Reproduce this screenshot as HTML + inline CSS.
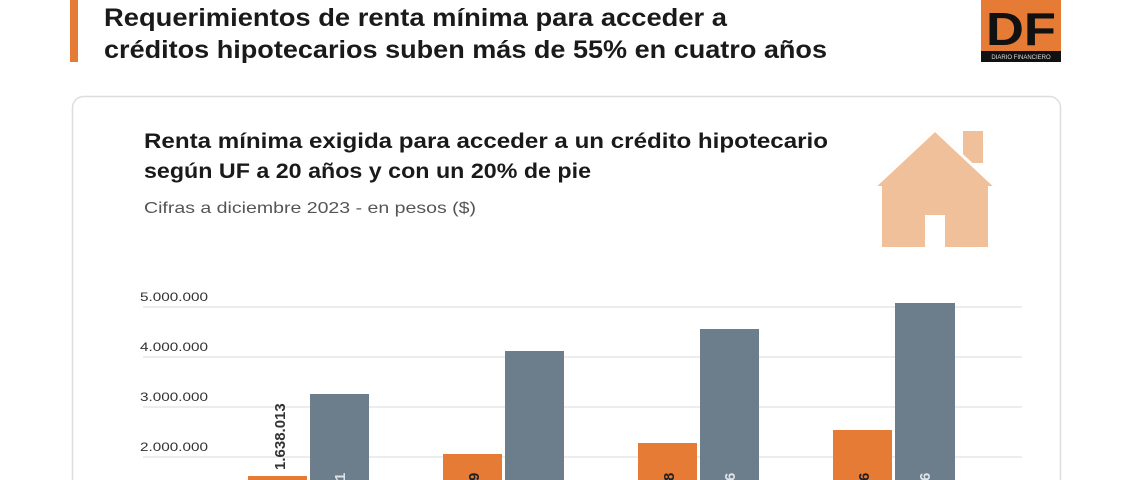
<!DOCTYPE html>
<html><head><meta charset="utf-8"><style>
html,body{margin:0;padding:0;background:#fff;width:1140px;height:480px;overflow:hidden;}
svg{display:block;font-family:"Liberation Sans",sans-serif;overflow:hidden;}
</style></head><body>
<svg width="1140" height="480" viewBox="0 0 1140 480" xmlns="http://www.w3.org/2000/svg">
<rect width="1140" height="480" fill="#fff"/>
<rect x="70" y="0" width="8" height="62" fill="#e57b35"/>
<text x="104" y="26" font-size="25" font-weight="bold" fill="#1a1a1a" textLength="623" lengthAdjust="spacingAndGlyphs">Requerimientos de renta mínima para acceder a</text>
<text x="104" y="58" font-size="25" font-weight="bold" fill="#1a1a1a" textLength="723" lengthAdjust="spacingAndGlyphs">créditos hipotecarios suben más de 55% en cuatro años</text>
<rect x="981" y="0" width="80" height="62" fill="#e57b35"/>
<rect x="981" y="51" width="80" height="11" fill="#111"/>
<text x="1021" y="45" font-size="46" font-weight="bold" fill="#111" text-anchor="middle" textLength="70" lengthAdjust="spacingAndGlyphs">DF</text>
<text x="1021" y="59" font-size="6" fill="#ddd" text-anchor="middle">DIARIO FINANCIERO</text>
<path d="M72.5,480 V107.5 a11,11 0 0 1 11,-11 H1049.5 a11,11 0 0 1 11,11 V480" fill="#fff" stroke="#ddd" stroke-width="1.5"/>
<text x="144" y="148" font-size="21" font-weight="bold" fill="#1a1a1a" textLength="684" lengthAdjust="spacingAndGlyphs">Renta mínima exigida para acceder a un crédito hipotecario</text>
<text x="144" y="178" font-size="21" font-weight="bold" fill="#1a1a1a" textLength="447" lengthAdjust="spacingAndGlyphs">según UF a 20 años y con un 20% de pie</text>
<text x="144" y="213" font-size="16" fill="#555" textLength="332" lengthAdjust="spacingAndGlyphs">Cifras a diciembre 2023 - en pesos ($)</text>
<g fill="#f0c09a">
<rect x="963" y="131" width="20" height="32"/>
<polygon points="935,128 997,186 873,186"/>
<rect x="882" y="184" width="106" height="63"/>
</g>
<polyline points="873,188 935,130 997,188" fill="none" stroke="#fff" stroke-width="3"/>
<rect x="925" y="215" width="20" height="32" fill="#fff"/>
<g stroke="#e2e2e2" stroke-width="1.2">
<line x1="143" y1="307" x2="1022" y2="307"/>
<line x1="143" y1="357" x2="1022" y2="357"/>
<line x1="143" y1="407" x2="1022" y2="407"/>
<line x1="143" y1="457" x2="1022" y2="457"/>
</g>
<g font-size="12" fill="#333">
<text x="140" y="301" textLength="68" lengthAdjust="spacingAndGlyphs">5.000.000</text>
<text x="140" y="351" textLength="68" lengthAdjust="spacingAndGlyphs">4.000.000</text>
<text x="140" y="401" textLength="68" lengthAdjust="spacingAndGlyphs">3.000.000</text>
<text x="140" y="451" textLength="68" lengthAdjust="spacingAndGlyphs">2.000.000</text>
</g>
<g fill="#e57b35">
<rect x="248" y="476" width="59" height="4"/>
<rect x="443" y="454" width="59" height="26"/>
<rect x="638" y="443" width="59" height="37"/>
<rect x="833" y="430" width="59" height="50"/>
</g>
<g fill="#6c7d8c">
<rect x="310" y="394" width="59" height="86"/>
<rect x="505" y="351" width="59" height="129"/>
<rect x="700" y="329" width="59" height="151"/>
<rect x="895" y="303" width="60" height="177"/>
</g>
<text transform="translate(285,470) rotate(-90)" font-size="15" font-weight="bold" fill="#333">1.638.013</text>
<g font-size="15" font-weight="bold">
<text transform="translate(479,481) rotate(-90)" fill="#222">9</text>
<text transform="translate(674,481) rotate(-90)" fill="#222">8</text>
<text transform="translate(869,481) rotate(-90)" fill="#222">6</text>
<text transform="translate(345,481) rotate(-90)" fill="#dde3e8">1</text>
<text transform="translate(735,481) rotate(-90)" fill="#dde3e8">6</text>
<text transform="translate(930,481) rotate(-90)" fill="#dde3e8">6</text>
</g>
</svg>
</body></html>
